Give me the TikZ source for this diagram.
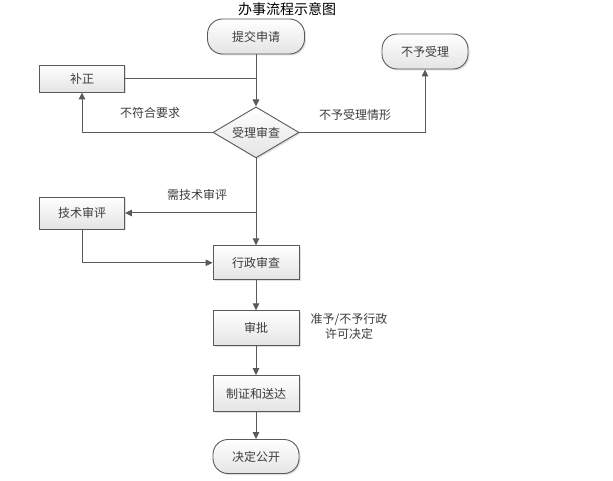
\documentclass[tikz,border=0pt]{standalone}
\usepackage{fontspec}
\setmainfont{Noto Sans CJK SC}
\usepackage{xcolor}
\usepackage{tikz}
\usetikzlibrary{shapes.geometric, arrows.meta, positioning, shadows}
\definecolor{linegray}{HTML}{5a5a5a}
\definecolor{textgray}{HTML}{3c3c3c}
\definecolor{boxbottom}{HTML}{e4e4e4}
\tikzstyle{procbox} = [rectangle, minimum width=86pt, minimum height=34pt, text centered,
  draw=linegray, top color=white, bottom color=boxbottom, font=\fontsize{12}{14}\selectfont, text=textgray,
  line width=0.9pt, drop shadow={shadow xshift=1.5pt, shadow yshift=-1.5pt, opacity=0.25}]
\tikzstyle{termbox} = [procbox, rounded corners=15pt]
\tikzstyle{decbox} = [procbox, diamond, aspect=1.7, inner sep=0pt, minimum width=86pt, minimum height=51pt]
\tikzstyle{note} = [font=\fontsize{12}{15}\selectfont, text=textgray, align=center]
\tikzstyle{arrow} = [line width=1pt, draw=linegray, -{Triangle[length=7pt, width=6.5pt]}]
\tikzstyle{plain} = [line width=1pt, draw=linegray]

\begin{document}
\begin{tikzpicture}[x=1pt, y=-1pt]
  \useasboundingbox (0,0) rectangle (613,481);
  \node (title) [font=\fontsize{14}{16}\selectfont, text=black] at (287,9) {办事流程示意图};

  \node (tijiao) [termbox, minimum width=97pt, minimum height=35pt] at (256,36.5) {提交申请};
  \node (shencha)[decbox, below=52pt of tijiao] {受理审查};
  \node (xingzheng)[procbox, below=87pt of shencha] {行政审查};
  \node (shenpi) [procbox, below=30pt of xingzheng, minimum height=35pt] {审批};
  \node (zhizheng)[procbox, below=29pt of shenpi, minimum height=36pt] {制证和送达};
  \node (gongkai)[termbox, below=27pt of zhizheng] {决定公开};

  \node (buzheng)[procbox, minimum width=85pt, minimum height=27pt] at (82,78.5) {补正};
  \node (jishu) [procbox, minimum width=85pt, minimum height=32pt] at (82,213) {技术审评};
  \node (buyu) [termbox, minimum height=35pt] at (425,51.5) {不予受理};

  \node (lbl1) [note] at (150,113) {不符合要求};
  \node (lbl2) [note] at (355,115) {不予受理情形};
  \node (lbl3) [note] at (197,195) {需技术审评};
  \node (lbl4) [note] at (349,326) {准予/不予行政\\许可决定};

  \draw[arrow] (tijiao)--(shencha);
  \draw[plain] (buzheng.east)--(tijiao.south |- buzheng.east);
  \draw[arrow] (shencha.west) -| (buzheng.south);
  \draw[arrow] (shencha.east) -| (buyu.south);
  \draw[arrow] (shencha)--(xingzheng);
  \draw[arrow] (shencha.south |- jishu.east)--(jishu.east);
  \draw[arrow] (jishu.south) |- (xingzheng.west);
  \draw[arrow] (xingzheng)--(shenpi);
  \draw[arrow] (shenpi)--(zhizheng);
  \draw[arrow] (zhizheng)--(gongkai);
\end{tikzpicture}
\end{document}
